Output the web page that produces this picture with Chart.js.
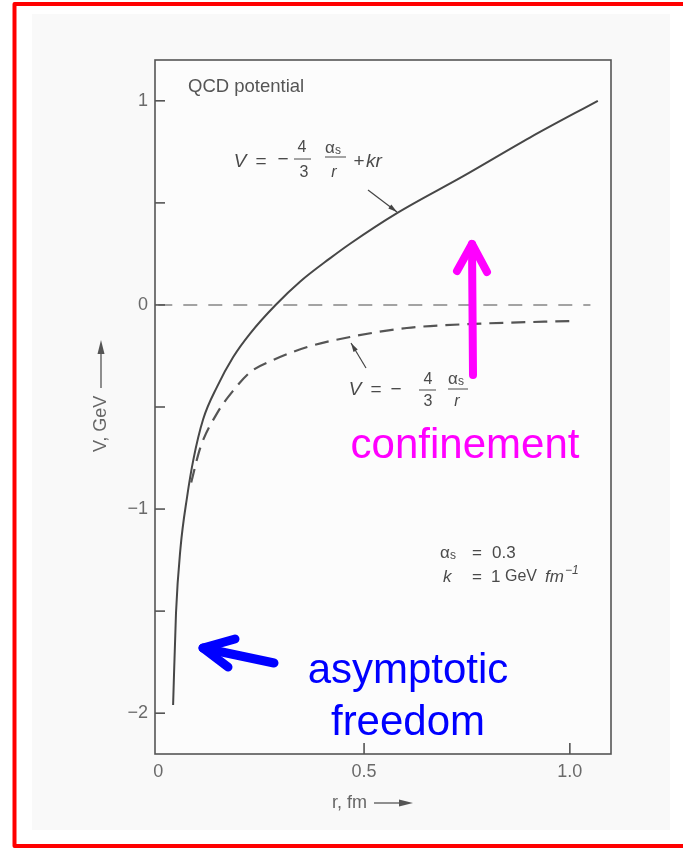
<!DOCTYPE html>
<html>
<head>
<meta charset="utf-8">
<script src="https://cdn.jsdelivr.net/npm/chart.js@4.4.1/dist/chart.umd.min.js"></script>
<style>
  html, body { margin: 0; padding: 0; background: #fff; }
  #wrap { width: 683px; height: 850px; }
</style>
</head>
<body>
<div id="wrap"><canvas id="grafico"></canvas></div>
<script>
// QCD potential: r in fm, V in GeV
const rFull = [0.036, 0.043, 0.054, 0.070, 0.085, 0.109, 0.143, 0.182, 0.223, 0.285, 0.345, 0.417, 0.466, 0.58, 0.74, 0.903, 1.068];
const vFull = [-1.96, -1.51, -1.19, -0.94, -0.76, -0.56, -0.40, -0.255, -0.14, 0.0, 0.115, 0.228, 0.30, 0.45, 0.63, 0.82, 1.0];

// Coulomb part only
const rCoul = [0.080, 0.102, 0.143, 0.182, 0.223, 0.279, 0.362, 0.466, 0.604, 0.765, 1.017];
const vCoul = [-0.87, -0.70, -0.53, -0.42, -0.33, -0.27, -0.206, -0.157, -0.113, -0.093, -0.078];

// V = 0 reference line
const rZero = [0, 1.05];
const vZero = [0, 0];

const xTicks = [0, 0.5, 1.0];
const xTickLabels = ["0", "0.5", "1.0"];
const yTicks = [-2, -1.5, -1, -0.5, 0, 0.5, 1];
const yTickLabels = ["−2", "", "−1", "", "0", "", "1"];

const FONT = "'Liberation Sans', Arial, Helvetica, sans-serif";
const INK = "#4a4a4a";

const toXY = (xs, ys) => xs.map((x, i) => ({ x: x, y: ys[i] }));

function txt(c, s, x, y, size, opts) {
    opts = opts || {};
    c.font = (opts.italic ? "italic " : "") + size + "px " + FONT;
    c.fillStyle = opts.color || INK;
    c.textAlign = opts.align || "center";
    c.textBaseline = opts.baseline || "middle";
    c.fillText(s, x, y);
}

function seg(c, x1, y1, x2, y2, w, color, cap) {
    c.beginPath();
    c.moveTo(x1, y1);
    c.lineTo(x2, y2);
    c.lineWidth = w;
    c.strokeStyle = color;
    c.lineCap = cap || "butt";
    c.stroke();
}

// thin pointer with a small filled head at (x2, y2)
function pointer(c, x1, y1, x2, y2) {
    seg(c, x1, y1, x2, y2, 1.2, "#444");
    const a = Math.atan2(y2 - y1, x2 - x1);
    c.beginPath();
    c.moveTo(x2, y2);
    c.lineTo(x2 - 9 * Math.cos(a) + 2.5 * Math.sin(a), y2 - 9 * Math.sin(a) - 2.5 * Math.cos(a));
    c.lineTo(x2 - 9 * Math.cos(a) - 2.5 * Math.sin(a), y2 - 9 * Math.sin(a) + 2.5 * Math.cos(a));
    c.closePath();
    c.fillStyle = "#444";
    c.fill();
}

// fat marker-style arrow: shaft plus two wings at the tip
function fatArrow(c, x1, y1, x2, y2, w1, w2, w, color) {
    c.lineJoin = "round";
    seg(c, x1, y1, x2, y2, w, color, "round");
    c.beginPath();
    c.moveTo(w1[0], w1[1]);
    c.lineTo(x2, y2);
    c.lineTo(w2[0], w2[1]);
    c.lineWidth = w;
    c.strokeStyle = color;
    c.lineCap = "round";
    c.stroke();
}

function alphaS(c, x, y) {
    txt(c, "α", x, y, 17, { align: "left" });
    txt(c, "s", x + 10, y + 3, 12, { align: "left" });
}

const decor = {
    id: "decor",
    beforeDraw(chart) {
        const c = chart.ctx;
        c.save();
        c.fillStyle = "#fff";
        c.fillRect(0, 0, chart.width, chart.height);
        c.fillStyle = "#f9f9f9";
        c.fillRect(32, 14, 638, 816);
        c.fillStyle = "#fcfcfc";
        c.fillRect(chart.chartArea.left, chart.chartArea.top, chart.chartArea.width, chart.chartArea.height);
        c.restore();
    },
    afterDraw(chart) {
        const c = chart.ctx;
        const a = chart.chartArea;
        const xs = chart.scales.x, ys = chart.scales.y;
        c.save();

        // frame + inward ticks
        c.lineWidth = 1.6;
        c.strokeStyle = "#555";
        c.strokeRect(a.left, a.top, a.right - a.left, a.bottom - a.top);
        xTicks.forEach(v => {
            if (v === 0) return;
            const px = xs.getPixelForValue(v);
            seg(c, px, a.bottom, px, a.bottom - 11, 1.6, "#555");
        });
        yTicks.forEach(v => {
            const py = ys.getPixelForValue(v);
            seg(c, a.left, py, a.left + 10, py, 1.6, "#555");
        });

        // axis titles
        txt(c, "r, fm", 332, 803, 18, { align: "left", color: "#666" });
        seg(c, 374, 803, 401, 803, 1.3, "#555");
        c.beginPath();
        c.moveTo(413, 803); c.lineTo(399, 799.5); c.lineTo(399, 806.5); c.closePath();
        c.fillStyle = "#555"; c.fill();

        c.translate(101, 452);
        c.rotate(-Math.PI / 2);
        txt(c, "V, GeV", 0, 0, 18, { align: "left", color: "#666" });
        seg(c, 64, 0, 100, 0, 1.3, "#555");
        c.beginPath();
        c.moveTo(112, 0); c.lineTo(98, -3.5); c.lineTo(98, 3.5); c.closePath();
        c.fillStyle = "#555"; c.fill();
        c.setTransform(1, 0, 0, 1, 0, 0);

        txt(c, "QCD potential", 188, 87, 18.5, { align: "left", color: "#555" });

        // V = -4/3 αs/r + kr
        txt(c, "V", 240, 162, 19, { italic: true });
        txt(c, "=", 261, 162, 19);
        txt(c, "−", 283, 160, 19);
        txt(c, "4", 302, 148, 16);
        seg(c, 294, 159, 311, 159, 1, INK);
        txt(c, "3", 304, 173, 16);
        alphaS(c, 325, 148);
        seg(c, 325, 157, 346, 157, 1, INK);
        txt(c, "r", 334, 173, 16, { italic: true });
        txt(c, "+", 359, 162, 19);
        txt(c, "kr", 366, 162, 19, { italic: true, align: "left" });
        pointer(c, 368, 190, 397, 212);

        // V = -4/3 αs/r
        txt(c, "V", 355, 390, 19, { italic: true });
        txt(c, "=", 376, 390, 19);
        txt(c, "−", 396, 390, 19);
        txt(c, "4", 428, 380, 16);
        seg(c, 419, 390, 436, 390, 1, INK);
        txt(c, "3", 428, 402, 16);
        alphaS(c, 448, 379);
        seg(c, 448, 389, 468, 389, 1, INK);
        txt(c, "r", 457, 402, 16, { italic: true });
        pointer(c, 366, 368, 351, 343);

        // parameters
        alphaS(c, 440, 553);
        txt(c, "=", 472, 553, 17, { align: "left" });
        txt(c, "0.3", 492, 553, 17, { align: "left" });
        txt(c, "k", 443, 577, 17, { italic: true, align: "left" });
        txt(c, "=", 472, 577, 17, { align: "left" });
        txt(c, "1", 491, 577, 17, { align: "left" });
        txt(c, "GeV", 505, 577, 16, { align: "left" });
        txt(c, "fm", 545, 577, 17, { italic: true, align: "left" });
        txt(c, "−1", 565, 571, 12, { italic: true, align: "left" });

        // highlighted notes
        fatArrow(c, 473, 375, 472, 244, [457, 271], [487, 272], 8, "#ff00ff");
        txt(c, "confinement", 465, 458, 42, { color: "#ff00ff", baseline: "alphabetic" });

        fatArrow(c, 274, 663, 203, 648, [235, 639], [228, 667], 9, "#0000ff");
        txt(c, "asymptotic", 408, 683, 42, { color: "#0000ff", baseline: "alphabetic" });
        txt(c, "freedom", 408, 735, 42, { color: "#0000ff", baseline: "alphabetic" });

        // red outer border
        c.lineWidth = 4;
        c.strokeStyle = "#ff0000";
        c.strokeRect(14.5, 4, 680, 842);
        c.restore();
    }
};

const ctx = document.getElementById("grafico").getContext("2d");
window.chart = new Chart(ctx, {
    type: "scatter",
    data: {
        datasets: [{
            label: "V = −4/3 αs/r + kr",
            data: toXY(rFull, vFull),
            showLine: true,
            borderColor: "#474747",
            borderWidth: 2,
            pointRadius: 0,
            cubicInterpolationMode: "monotone"
        }, {
            label: "V = −4/3 αs/r",
            data: toXY(rCoul, vCoul),
            showLine: true,
            borderColor: "#555",
            borderWidth: 2.2,
            borderDash: [14, 8],
            pointRadius: 0,
            cubicInterpolationMode: "monotone"
        }, {
            label: "V = 0",
            data: toXY(rZero, vZero),
            showLine: true,
            borderColor: "#858585",
            borderWidth: 1.5,
            borderDash: [14, 11],
            pointRadius: 0
        }]
    },
    options: {
        responsive: true,
        maintainAspectRatio: false,
        animation: false,
        layout: { padding: { top: 60, right: 72, left: 0, bottom: 0 } },
        plugins: { legend: { display: false }, tooltip: { enabled: false } },
        scales: {
            x: {
                type: "linear",
                min: -0.008,
                max: 1.1,
                grid: { display: false, drawTicks: false },
                border: { display: false },
                afterBuildTicks: s => { s.ticks = xTicks.map(v => ({ value: v })); },
                afterFit: s => { s.height = 96; },
                ticks: {
                    padding: 7,
                    color: "#6a6a6a",
                    font: { family: FONT, size: 18 },
                    maxRotation: 0,
                    callback: v => xTickLabels[xTicks.indexOf(v)]
                }
            },
            y: {
                type: "linear",
                min: -2.2,
                max: 1.2,
                grid: { display: false, drawTicks: false },
                border: { display: false },
                afterBuildTicks: s => { s.ticks = yTicks.map(v => ({ value: v })); },
                afterFit: s => { s.width = 155; },
                ticks: {
                    padding: 7,
                    color: "#6a6a6a",
                    font: { family: FONT, size: 18 },
                    callback: v => yTickLabels[yTicks.indexOf(v)]
                }
            }
        }
    },
    plugins: [decor]
});
</script>
</body>
</html>
